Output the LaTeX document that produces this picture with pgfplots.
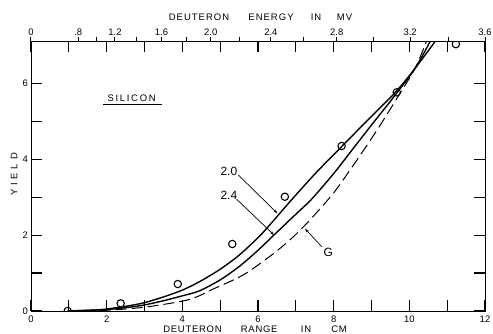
\documentclass[border=0pt]{standalone}
\usepackage{pgfplots}
\pgfplotsset{compat=1.18}
\usetikzlibrary{arrows.meta}
\usepackage{fontspec}
\setmainfont{Liberation Sans}
\newfontfamily\topfont[LetterSpace=11]{Liberation Sans}
\newfontfamily\botfont[LetterSpace=8]{Liberation Sans}
\newfontfamily\yfont[LetterSpace=41]{Liberation Sans}
\newfontfamily\sifont[LetterSpace=18]{Liberation Sans}
\newcommand\tickfont{\fontsize{9.5}{10}\selectfont}
\newcommand\lblsize{\fontsize{9.5}{11}\selectfont}
\newcommand\curvefont{\fontsize{12}{13}\selectfont}

\begin{document}
\begin{tikzpicture}
\path[use as bounding box] (-31bp,-23bp) rectangle (462bp,311bp);
% energy (top) axis
\begin{axis}[
  at={(0bp,0bp)}, anchor=south west,
  scale only axis, width=454bp, height=269.5bp,
  xmin=0, xmax=12, ymin=0, ymax=1,
  axis x line*=top, axis y line=none,
  x axis line style={-, line width=1bp},
  xtick={0,1.25,1.74,2.22,2.79,3.45,4.12,4.75,5.52,6.34,7.20,8.08,9.05,10.02,11.03,12},
  xticklabels={0,.8,,1.2,,1.6,,2.0,,2.4,,2.8,,3.2,,3.6},
  tick align=outside, major tick length=4bp,
  tick style={black, line width=1bp},
  xticklabel style={font=\tickfont, inner sep=1.5bp},
]
\addplot[draw=none] coordinates {(0,0) (12,1)};
\end{axis}
% main (range) axis
\begin{axis}[
  at={(0bp,0bp)}, anchor=south west,
  scale only axis, width=454bp, height=269.5bp,
  xmin=0, xmax=12, ymin=0, ymax=7.1,
  xtick={0,1,...,12}, xticklabels={0,,2,,4,,6,,8,,10,,12},
  ytick={0,1,...,6}, yticklabels={0,,2,,4,,6},
  xtick pos=both, ytick pos=both,
  xticklabel pos=lower, yticklabel pos=left,
  tick align=inside, major tick length=11bp,
  tick style={black, line width=1.1bp},
  axis line style={line width=1bp},
  xticklabel style={font=\tickfont, yshift=-1.2bp},
  yticklabel style={font=\tickfont, xshift=0.5bp},
  clip marker paths=true,
]
% 2.0 curve
\addplot[black, line width=1.4bp, smooth] coordinates {
(0.97,0) (1.6,0.02) (2.0,0.05) (2.6,0.14) (3.0,0.22) (3.5,0.37) (4.0,0.55)
(4.45,0.77) (5.0,1.1) (5.5,1.47) (6.0,1.93) (6.25,2.2) (6.6,2.6) (6.95,3.0)
(7.55,3.66) (8.21,4.33) (8.9,5.03) (9.62,5.75) (10.15,6.39) (10.68,7.1)};
% 2.4 curve
\addplot[black, line width=1.4bp, smooth] coordinates {
(0.97,0) (2.0,0.04) (2.6,0.1) (3.0,0.16) (3.5,0.27) (4.0,0.4) (4.45,0.53)
(5.0,0.82) (5.5,1.17) (6.0,1.6) (6.42,2.0) (7.0,2.55) (7.42,2.95) (8.0,3.62)
(8.43,4.17) (9.0,4.9) (9.62,5.68) (10.15,6.39) (10.55,7.1)};
% G curve
\addplot[black, line width=1bp, smooth, dash pattern=on 11bp off 5bp] coordinates {
(0.97,0) (2.0,0.02) (3.0,0.1) (4.0,0.26) (4.4,0.38) (4.82,0.58) (5.61,0.95)
(6.36,1.475) (6.89,1.915) (7.375,2.40) (7.99,3.10) (8.43,3.71) (8.78,4.22)
(9.2,4.85) (9.67,5.6) (10.15,6.39) (10.45,7.1)};
% measured points
\addplot[only marks, mark=o, mark size=3.7bp,
  mark options={line width=1.1bp, fill=white, draw=black}] coordinates {
(0.97,0.0) (2.37,0.2) (3.88,0.71) (5.32,1.765) (6.71,3.01) (8.21,4.347)
(9.667,5.761) (11.23,7.03)};
% annotations
\node[font=\curvefont] at (axis cs:5.23,3.68) {2.0};
\node[font=\curvefont] at (axis cs:5.23,3.056) {2.4};
\node[font=\curvefont] at (axis cs:7.86,1.536) {G};
\draw[-{Stealth[length=4bp,width=2.6bp]}, line width=0.7bp]
  (axis cs:5.48,3.583) -- (axis cs:6.511,2.574);
\draw[-{Stealth[length=4bp,width=2.6bp]}, line width=0.7bp]
  (axis cs:5.437,2.943) -- (axis cs:6.423,2.002);
\draw[-{Stealth[length=4bp,width=2.6bp]}, line width=0.7bp]
  (axis cs:7.684,1.694) -- (axis cs:7.243,2.168);
\node[font=\sifont\lblsize, anchor=base] at (axis cs:2.66,5.51) {SILICON};
\draw[line width=1bp] (axis cs:1.91,5.453) -- (axis cs:3.455,5.453);
\end{axis}
% axis titles
\node[font=\topfont\lblsize, anchor=base] at (168bp,290.3bp) {DEUTERON};
\node[font=\topfont\lblsize, anchor=base] at (240bp,290.3bp) {ENERGY};
\node[font=\topfont\lblsize, anchor=base] at (285bp,290.3bp) {IN};
\node[font=\topfont\lblsize, anchor=base] at (313.5bp,290.3bp) {MV};
\node[font=\botfont\lblsize, anchor=base] at (161.5bp,-21.6bp) {DEUTERON};
\node[font=\botfont\lblsize, anchor=base] at (228.2bp,-21.6bp) {RANGE};
\node[font=\botfont\lblsize, anchor=base] at (275bp,-21.6bp) {IN};
\node[font=\botfont\lblsize, anchor=base] at (308bp,-21.6bp) {CM};
\node[font=\yfont\lblsize, rotate=90] at (-17bp,136.5bp) {YIELD};
\end{tikzpicture}
\end{document}
